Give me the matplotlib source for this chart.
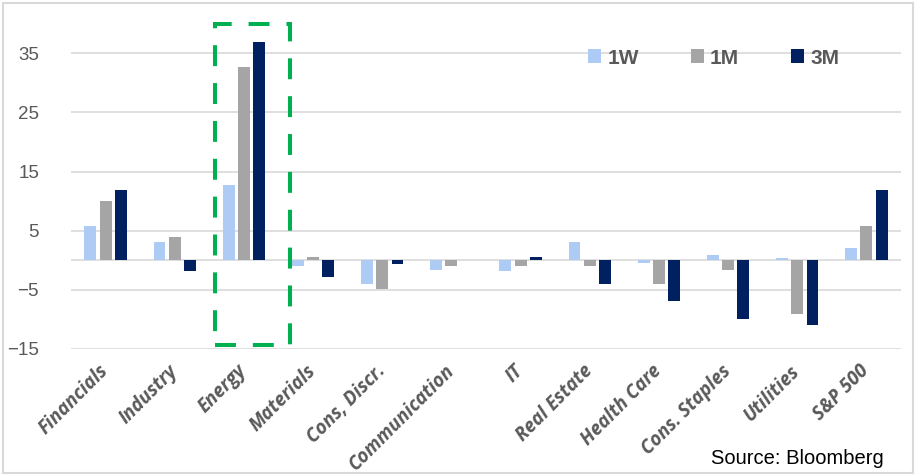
import numpy as np
import matplotlib
matplotlib.use("Agg")
import matplotlib.pyplot as plt
from matplotlib.patches import Rectangle

sectors = ["Financials", "Industry", "Energy", "Materials", "Cons, Discr.",
           "Communication", "IT", "Real Estate", "Health Care",
           "Cons. Staples", "Utilities", "S&P 500"]
ret_1w = [5.8, 3.1, 12.8, -1.0, -4.1, -1.6, -1.9, 3.1, -0.5, 0.8, 0.3, 2.0]
ret_1m = [10.0, 3.9, 32.7, 0.6, -4.9, -1.0, -1.0, -1.0, -4.1, -1.6, -9.1, 5.8]
ret_3m = [11.9, -1.9, 36.9, -2.9, -0.7, 0.0, 0.6, -4.1, -6.9, -9.9, -11.0, 11.9]
series_names = ["1W", "1M", "3M"]
colors = ["#AECBF5", "#A5A5A5", "#002060"]
yticks = [-15, -5, 5, 15, 25, 35]

grey_text = "#595959"
grid_col = "#D9D9D9"

fig = plt.figure(figsize=(9.16, 4.76), dpi=100)
ax = fig.add_axes([71 / 916, 1 - 348.8 / 476, 830 / 916, (348.8 - 23.8) / 476])

x = np.arange(len(sectors))
step = 0.221
width = 0.172
for i, (vals, name, col) in enumerate(zip([ret_1w, ret_1m, ret_3m], series_names, colors)):
    ax.bar(x + (i - 1) * step, vals, width, color=col, label=name, zorder=3)

ax.set_xlim(-0.5, len(sectors) - 0.5)
ax.set_ylim(-15, 40)
ax.set_yticks(yticks)
for y in yticks:
    ax.axhline(y, color=grid_col, lw=1.2, zorder=1)
ax.axhline(0, color=grid_col, lw=1.2, zorder=1)

for s in ax.spines.values():
    s.set_visible(False)
ax.tick_params(axis="both", length=0)
ax.tick_params(axis="y", pad=23, labelcolor=grey_text)
for lab in ax.get_yticklabels():
    lab.set_fontsize(13.5)
    lab.set_family("Liberation Sans")

ax.set_xticks(x)
ax.set_xticklabels(sectors, rotation=45, ha="right", va="center",
                   rotation_mode="anchor", fontsize=13.5, fontweight="bold",
                   fontstyle="italic", family="Open Sans", color=grey_text)
ax.tick_params(axis="x", pad=14)

# dashed highlight around the energy group
box = Rectangle((1.582, -14.4), 2.666 - 1.582, 39.9 + 14.4, fill=False,
                edgecolor="#00B050", lw=2.9, linestyle=(0, (5.2, 4.2)),
                clip_on=False, zorder=4)
ax.add_patch(box)

leg = ax.legend(loc="center left", bbox_to_anchor=(588 / 916, 1 - 58 / 476),
                bbox_transform=fig.transFigure, ncol=3, frameon=False,
                handlelength=0.62, handleheight=0.62, handletextpad=0.3,
                columnspacing=2.5, borderpad=0, borderaxespad=0,
                prop={"family": "Liberation Sans", "weight": "bold", "size": 15})
for t in leg.get_texts():
    t.set_color(grey_text)

fig.text(884 / 916, 1 - 458 / 476, "Source: Bloomberg", ha="right", va="center",
         fontsize=14.5, family="Liberation Sans", color="black")

fig.patches.append(Rectangle((3 / 916, 3 / 476), 910 / 916, 470 / 476,
                             transform=fig.transFigure, fill=False,
                             edgecolor=grid_col, lw=1.5))

fig.savefig("out.png", dpi=100)
